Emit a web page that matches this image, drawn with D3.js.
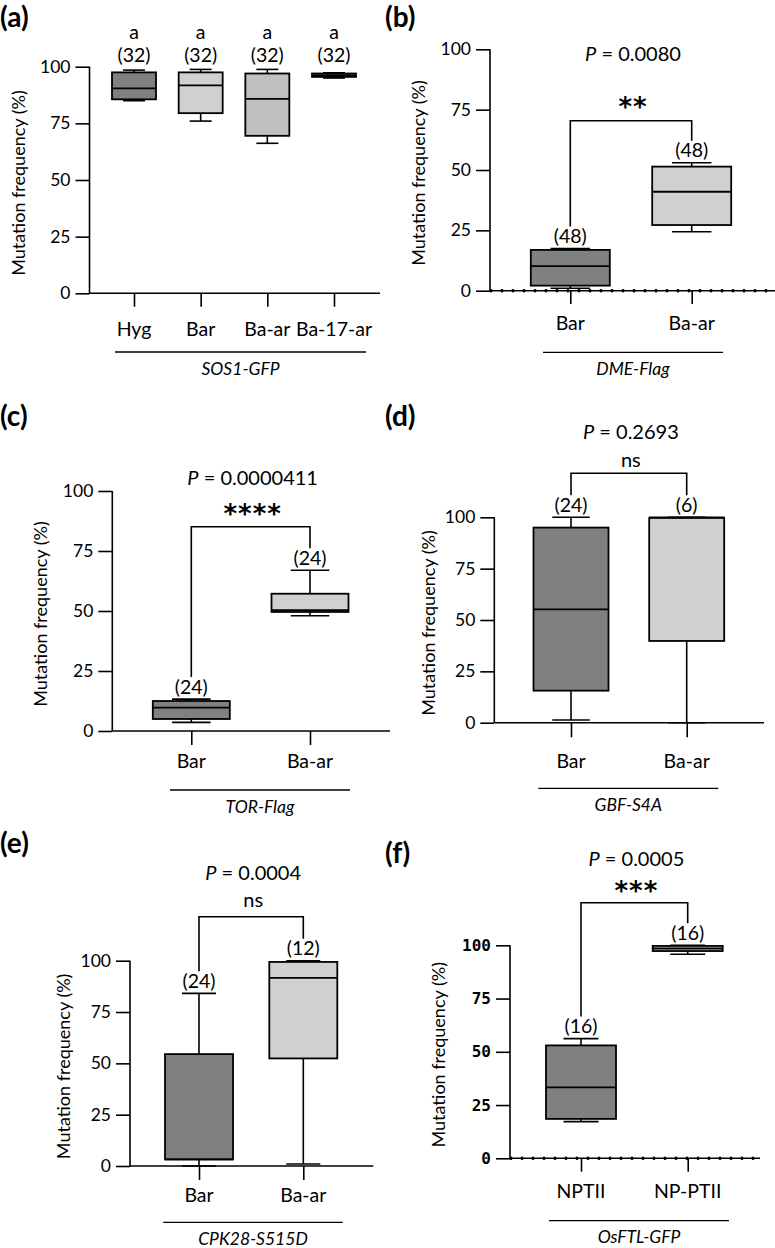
<!DOCTYPE html>
<html>
<head>
<meta charset="utf-8">
<script src="https://cdn.jsdelivr.net/npm/d3@7"></script>
<style>
  body { margin: 0; background: #fff; }
  text { font-family: Lato, "Open Sans", sans-serif; fill: #000; }
</style>
</head>
<body>
<script>
// Box statistics (whisker low, Q1, median, Q3, whisker high).

// (a) SOS1-GFP
var aGroups = ["Hyg", "Bar", "Ba-ar", "Ba-17-ar"];
var aLow = [85, 76, 66.2, 95];
var aQ1 = [85.6, 79.5, 69.5, 95.5];
var aMed = [90.4, 91.8, 85.8, 96.3];
var aQ3 = [97.5, 97.5, 97, 97];
var aHigh = [98.5, 98.8, 98.8, 97.3];
var aN = ["(32)", "(32)", "(32)", "(32)"];
var aLetters = ["a", "a", "a", "a"];

// (b) DME-Flag
var bGroups = ["Bar", "Ba-ar"];
var bLow = [1, 24.4];
var bQ1 = [2.1, 27.2];
var bMed = [10.2, 41];
var bQ3 = [16.9, 51.4];
var bHigh = [17.5, 53];
var bN = ["(48)", "(48)"];

// (c) TOR-Flag
var cGroups = ["Bar", "Ba-ar"];
var cLow = [3.6, 48];
var cQ1 = [5, 49.6];
var cMed = [9.7, 50.4];
var cQ3 = [12.5, 57.2];
var cHigh = [13.3, 67];
var cN = ["(24)", "(24)"];

// (d) GBF-S4A
var dGroups = ["Bar", "Ba-ar"];
var dLow = [1.3, 0];
var dQ1 = [15.6, 39.8];
var dMed = [55.2, 100];
var dQ3 = [95, 99.7];
var dHigh = [100, 100];
var dN = ["(24)", "(6)"];

// (e) CPK28-S515D
var eGroups = ["Bar", "Ba-ar"];
var eLow = [0, 1];
var eQ1 = [3.2, 52.4];
var eMed = [3.2, 91.6];
var eQ3 = [54.5, 99.4];
var eHigh = [84.1, 100];
var eN = ["(24)", "(12)"];

// (f) OsFTL-GFP
var fGroups = ["NPTII", "NP-PTII"];
var fLow = [17.2, 95.8];
var fQ1 = [18.5, 97.3];
var fMed = [33.3, 98.5];
var fQ3 = [53, 99.7];
var fHigh = [56.2, 100];
var fN = ["(16)", "(16)"];

var yTicks = [0, 25, 50, 75, 100];

function toBoxes(groups, low, q1, med, q3, high, n) {
  return groups.map(function(g, i) {
    return {group: g, low: low[i], q1: q1[i], med: med[i], q3: q3[i], high: high[i], n: n[i]};
  });
}

var svg = d3.select("body").append("svg")
    .attr("width", 775)
    .attr("height", 1248);

var panels = [
  {tag: "(a)", tagX: 0, tagY: 27, boxes: toBoxes(aGroups, aLow, aQ1, aMed, aQ3, aHigh, aN),
   letters: aLetters, fills: ["#808080", "#d0d0d0", "#c0c0c0", "#d3d3d3"],
   axisX: 89.5, y0: 293.3, y100: 66.7, xRight: 380, xFirst: 134, xLast: 334, boxW: 44,
   tickBottom: 306.7, labelY: 328, lineY: 352, lineX: [115, 366], gene: "SOS1-GFP",
   titleX: 18},
  {tag: "(b)", tagX: 385, tagY: 27, boxes: toBoxes(bGroups, bLow, bQ1, bMed, bQ3, bHigh, bN),
   fills: ["#808080", "#d0d0d0"], dotted: true,
   axisX: 490, y0: 290.7, y100: 49.3, xRight: 775, xFirst: 570.3, xLast: 691.7, boxW: 79,
   tickBottom: 304, labelY: 322, lineY: 352.3, lineX: [543, 723], gene: "DME-Flag",
   titleX: 418, p: "0.0080", pY: 52.7, stars: "**", starsY: 100, bracketY: 120.7},
  {tag: "(c)", tagX: 0, tagY: 426, boxes: toBoxes(cGroups, cLow, cQ1, cMed, cQ3, cHigh, cN),
   fills: ["#808080", "#d0d0d0"],
   axisX: 112.3, y0: 731, y100: 491, xRight: 390, xFirst: 191.3, xLast: 310, boxW: 77,
   tickBottom: 745, labelY: 760, lineY: 790, lineX: [170, 350], gene: "TOR-Flag",
   titleX: 40, p: "0.0000411", pY: 477.3, stars: "****", starsY: 506.7, bracketY: 526.7},
  {tag: "(d)", tagX: 385, tagY: 426, boxes: toBoxes(dGroups, dLow, dQ1, dMed, dQ3, dHigh, dN),
   fills: ["#808080", "#d0d0d0"],
   axisX: 494.3, y0: 722.7, y100: 517.3, xRight: 764, xFirst: 571, xLast: 686.7, boxW: 75,
   tickBottom: 737.3, labelY: 760, lineY: 788.3, lineX: [538.3, 718.3], gene: "GBF-S4A",
   titleX: 428, p: "0.2693", pY: 430.7, stars: "ns", starsY: 459, bracketY: 473.3},
  {tag: "(e)", tagX: 0, tagY: 853, boxes: toBoxes(eGroups, eLow, eQ1, eMed, eQ3, eHigh, eN),
   fills: ["#808080", "#d0d0d0"],
   axisX: 130, y0: 1166, y100: 960.7, xRight: 373.3, xFirst: 199, xLast: 303.3, boxW: 68,
   tickBottom: 1180, labelY: 1194, lineY: 1222.3, lineX: [163.3, 342.7], gene: "CPK28-S515D",
   titleX: 63, p: "0.0004", pY: 871.7, stars: "ns", starsY: 898.5, bracketY: 916.7},
  {tag: "(f)", tagX: 385, tagY: 863, boxes: toBoxes(fGroups, fLow, fQ1, fMed, fQ3, fHigh, fN),
   fills: ["#808080", "#d0d0d0"], dotted: true, monoTicks: true,
   axisX: 510, y0: 1158.3, y100: 945.3, xRight: 760, xFirst: 581, xLast: 687.7, boxW: 70,
   tickBottom: 1171.7, labelY: 1190, lineY: 1220.7, lineX: [549, 729], gene: "OsFTL-GFP",
   titleX: 438, p: "0.0005", pY: 858.3, stars: "***", starsY: 884, bracketY: 902.7}
];

panels.forEach(drawPanel);

function drawPanel(cfg) {
  var g = svg.append("g");

  var y = d3.scaleLinear().domain([0, 100]).range([cfg.y0, cfg.y100]);
  var x = d3.scalePoint()
      .domain(cfg.boxes.map(function(d) { return d.group; }))
      .range([cfg.xFirst, cfg.xLast]);

  // panel letter
  g.append("text")
      .attr("x", cfg.tagX)
      .attr("y", cfg.tagY)
      .attr("font-size", 28)
      .attr("font-weight", "bold")
      .text(cfg.tag);

  // y axis
  var yAxis = g.append("g")
      .attr("transform", "translate(" + cfg.axisX + ",0)")
      .call(d3.axisLeft(y).tickValues(yTicks).tickSize(14).tickPadding(5));
  yAxis.select(".domain").attr("stroke-width", 1.6).attr("d", "M0," + cfg.y0 + "V" + cfg.y100);
  yAxis.selectAll(".tick line").attr("stroke-width", 1.6);
  yAxis.selectAll(".tick text")
      .style("font-family", cfg.monoTicks ? "'DejaVu Sans Mono', monospace" : null)
      .attr("font-weight", cfg.monoTicks ? "bold" : null)
      .attr("font-size", cfg.monoTicks ? 16 : 17.5);

  g.append("text")
      .attr("transform", "translate(" + cfg.titleX + "," + ((cfg.y0 + cfg.y100) / 2 + 3) + ") rotate(-90)")
      .attr("text-anchor", "middle")
      .attr("dominant-baseline", "central")
      .attr("font-size", 18)
      .text("Mutation frequency (%)");

  // x axis baseline
  g.append("line")
      .attr("x1", cfg.axisX).attr("x2", cfg.xRight)
      .attr("y1", cfg.y0).attr("y2", cfg.y0)
      .attr("stroke", "#000").attr("stroke-width", 1.6);

  if (cfg.dotted) {
    g.selectAll(".dot")
        .data(d3.range(cfg.axisX + 1, cfg.xRight - 2, 11))
        .enter().append("rect")
        .attr("x", function(d) { return d - 1.2; })
        .attr("y", cfg.y0 - 1.6)
        .attr("width", 2.4).attr("height", 3.2)
        .attr("fill", "#000");
  }

  var xAxis = g.append("g")
      .attr("transform", "translate(0," + cfg.y0 + ")")
      .call(d3.axisBottom(x).tickSize(cfg.tickBottom - cfg.y0).tickFormat(""));
  xAxis.select(".domain").remove();
  xAxis.selectAll(".tick line").attr("stroke-width", 1.6);

  g.selectAll(".cat")
      .data(cfg.boxes)
      .enter().append("text")
      .attr("x", function(d) { return x(d.group); })
      .attr("y", cfg.labelY)
      .attr("text-anchor", "middle")
      .attr("dominant-baseline", "central")
      .attr("font-size", 19.5)
      .text(function(d) { return d.group; });

  // group underline and gene name
  g.append("line")
      .attr("x1", cfg.lineX[0]).attr("x2", cfg.lineX[1])
      .attr("y1", cfg.lineY).attr("y2", cfg.lineY)
      .attr("stroke", "#000").attr("stroke-width", 1.3);
  g.append("text")
      .attr("x", (cfg.lineX[0] + cfg.lineX[1]) / 2)
      .attr("y", cfg.lineY + 16)
      .attr("text-anchor", "middle")
      .attr("dominant-baseline", "central")
      .attr("font-size", 17.5)
      .attr("font-style", "italic")
      .text(cfg.gene);

  // boxes
  var bw = cfg.boxW;
  var box = g.selectAll(".box")
      .data(cfg.boxes)
      .enter().append("g");

  box.append("line")
      .attr("x1", function(d) { return x(d.group); })
      .attr("x2", function(d) { return x(d.group); })
      .attr("y1", function(d) { return y(d.low); })
      .attr("y2", function(d) { return y(d.high); })
      .attr("stroke", "#000").attr("stroke-width", 1.6);

  box.append("rect")
      .attr("x", function(d) { return x(d.group) - bw / 2; })
      .attr("y", function(d) { return y(d.q3); })
      .attr("width", bw)
      .attr("height", function(d) { return Math.max(y(d.q1) - y(d.q3), 0.5); })
      .attr("fill", function(d, i) { return cfg.fills[i]; })
      .attr("stroke", "#000").attr("stroke-width", 1.8);

  box.append("line")
      .attr("x1", function(d) { return x(d.group) - bw / 2; })
      .attr("x2", function(d) { return x(d.group) + bw / 2; })
      .attr("y1", function(d) { return y(d.med); })
      .attr("y2", function(d) { return y(d.med); })
      .attr("stroke", "#000").attr("stroke-width", 1.8);

  ["low", "high"].forEach(function(k) {
    box.append("line")
        .attr("x1", function(d) { return x(d.group) - bw / 4; })
        .attr("x2", function(d) { return x(d.group) + bw / 4; })
        .attr("y1", function(d) { return y(d[k]); })
        .attr("y2", function(d) { return y(d[k]); })
        .attr("stroke", "#000").attr("stroke-width", 1.6);
  });

  // n labels
  box.append("text")
      .attr("x", function(d) { return x(d.group); })
      .attr("y", function(d) { return cfg.letters ? 54.5 : y(d.high) - 13; })
      .attr("text-anchor", "middle")
      .attr("dominant-baseline", "central")
      .attr("font-size", 19.5)
      .text(function(d) { return d.n; });

  if (cfg.letters) {
    box.append("text")
        .attr("x", function(d) { return x(d.group); })
        .attr("y", 31)
        .attr("text-anchor", "middle")
        .attr("dominant-baseline", "central")
        .attr("font-size", 19.5)
        .text(function(d, i) { return cfg.letters[i]; });
  }

  // significance bracket
  if (cfg.p) {
    var b0 = cfg.boxes[0], b1 = cfg.boxes[1];
    g.append("path")
        .attr("d", "M" + x(b0.group) + "," + (y(b0.high) - 22) +
                   "V" + cfg.bracketY +
                   "H" + x(b1.group) +
                   "V" + (y(b1.high) - 22))
        .attr("fill", "none")
        .attr("stroke", "#000").attr("stroke-width", 1.6);

    var cx = (x(b0.group) + x(b1.group)) / 2 + 2;
    var pt = g.append("text")
        .attr("x", cx)
        .attr("y", cfg.pY)
        .attr("text-anchor", "middle")
        .attr("dominant-baseline", "central")
        .attr("font-size", 20);
    pt.append("tspan").attr("font-style", "italic").text("P");
    pt.append("tspan").text(" = " + cfg.p);

    if (cfg.stars === "ns") {
      g.append("text")
          .attr("x", cx)
          .attr("y", cfg.starsY)
          .attr("text-anchor", "middle")
          .attr("dominant-baseline", "central")
          .attr("font-size", 20)
          .text("ns");
    } else {
      // asterisk glyph sits high, so place the alphabetic baseline below the centre
      g.append("text")
          .attr("x", cx)
          .attr("y", cfg.starsY + 16)
          .attr("text-anchor", "middle")
          .style("font-family", "'DejaVu Sans', sans-serif")
          .attr("font-size", 26)
          .attr("font-weight", "bold")
          .attr("letter-spacing", 1)
          .text(cfg.stars);
    }
  }
}
</script>
</body>
</html>
